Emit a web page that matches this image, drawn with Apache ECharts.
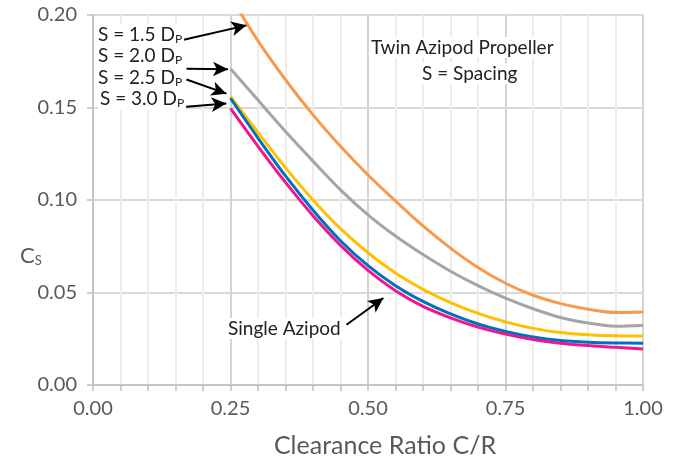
<!DOCTYPE html>
<html>
<head>
<meta charset="utf-8">
<script src="https://cdn.jsdelivr.net/npm/echarts@6/dist/echarts.min.js"></script>
<style>
  html, body { margin: 0; padding: 0; background: #fff; }
  #chart { width: 681px; height: 466px; }
</style>
</head>
<body>
<div id="chart"></div>
<script>
// clearance ratio C/R
var xs = [0.25, 0.30, 0.35, 0.40, 0.45, 0.50, 0.55, 0.60, 0.65, 0.70, 0.75, 0.80, 0.85, 0.90, 0.95, 1.00];
// Cs for each spacing
var s15 = [0.210, 0.186, 0.165, 0.146, 0.129, 0.1135, 0.0995, 0.086, 0.074, 0.0635, 0.055, 0.0485, 0.044, 0.041, 0.0392, 0.0395];
var s20 = [0.171, 0.154, 0.137, 0.121, 0.1055, 0.092, 0.0805, 0.0705, 0.0615, 0.0537, 0.0469, 0.0412, 0.0365, 0.0335, 0.0318, 0.0322];
var s25 = [0.156, 0.1365, 0.1175, 0.100, 0.0845, 0.0715, 0.0605, 0.0517, 0.0445, 0.0387, 0.0341, 0.0306, 0.0284, 0.0272, 0.0266, 0.0265];
var s30 = [0.155, 0.1335, 0.113, 0.0945, 0.078, 0.0645, 0.0537, 0.0452, 0.0384, 0.033, 0.0289, 0.0259, 0.024, 0.0231, 0.0227, 0.0226];
var single = [0.1495, 0.129, 0.1095, 0.0915, 0.0755, 0.062, 0.051, 0.0425, 0.0363, 0.0313, 0.0275, 0.0246, 0.0226, 0.0213, 0.0204, 0.0194];

// arrows: [from, to] in data units
var arrows = [
  [[0.161, 0.1863], [0.279, 0.1944]],
  [[0.170, 0.171], [0.2455, 0.1707]],
  [[0.170, 0.1651], [0.2426, 0.1575]],
  [[0.164, 0.1503], [0.2426, 0.1522]],
  [[0.461, 0.0326], [0.528, 0.047]]
];

function pairs(ys) {
  return xs.map(function (x, i) { return [x, ys[i]]; });
}

var font = 'Lato, "Liberation Sans", sans-serif';
var chart = echarts.init(document.getElementById('chart'));

function line(name, ys, color) {
  return {
    name: name,
    type: 'line',
    data: pairs(ys),
    smooth: 0.3,
    showSymbol: false,
    lineStyle: { color: color, width: 3 },
    itemStyle: { color: color },
    emphasis: { disabled: true },
    z: 3
  };
}

var series = [
  line('S = 1.5 Dp', s15, '#F79A4E'),
  line('S = 2.0 Dp', s20, '#A5A5A5'),
  line('S = 2.5 Dp', s25, '#FFC000'),
  line('S = 3.0 Dp', s30, '#0070C0'),
  line('Single Azipod', single, '#F0168C')
];
series.push({
  type: 'line',
  data: [],
  silent: true,
  markLine: {
    silent: true,
    animation: false,
    symbol: ['none', 'arrow'],
    symbolSize: [11, 15],
    label: { show: false },
    lineStyle: { color: '#000', width: 2, type: 'solid' },
    data: arrows.map(function (a) {
      return [{ coord: a[0] }, { coord: a[1] }];
    })
  }
});

var labelRich = { p: { fontSize: 12, fontFamily: font, color: '#222', padding: [8, 0, 0, 0] } };
function note(text, left, top) {
  return {
    type: 'text', left: left, top: top, z: 10,
    style: { text: text, fontSize: 19, fontFamily: font, fill: '#222', rich: labelRich,
      backgroundColor: '#fff', padding: [1, 2, 1, 2] }
  };
}

chart.setOption({
  animation: false,
  grid: { left: 93, right: 38, top: 15, bottom: 81 },
  xAxis: {
    type: 'value',
    min: 0, max: 1, interval: 0.25,
    name: 'Clearance Ratio C/R',
    nameLocation: 'middle',
    nameGap: 48,
    nameTextStyle: { fontSize: 25, fontFamily: font, color: '#595959', padding: [0, 0, 0, 34] },
    axisLine: { show: true, lineStyle: { color: '#BFBFBF', width: 1.5 } },
    axisTick: { show: true, length: 6, lineStyle: { color: '#BFBFBF', width: 1.5 } },
    minorTick: { show: true, splitNumber: 5, length: 6, lineStyle: { color: '#BFBFBF', width: 1.5 } },
    axisLabel: {
      margin: 14, fontSize: 20, fontFamily: font, color: '#595959',
      formatter: function (v) { return v.toFixed(2); }
    },
    splitLine: { show: true, lineStyle: { color: '#D4D4D4', width: 2 } },
    minorSplitLine: { show: true, lineStyle: { color: '#EDEDED', width: 2 } }
  },
  yAxis: {
    type: 'value',
    min: 0, max: 0.2, interval: 0.05,
    axisLine: { show: true, lineStyle: { color: '#BFBFBF', width: 1.5 } },
    axisTick: { show: true, length: 6, lineStyle: { color: '#BFBFBF', width: 1.5 } },
    axisLabel: {
      margin: 16, fontSize: 20, fontFamily: font, color: '#595959',
      formatter: function (v) { return v.toFixed(2); }
    },
    splitLine: { show: true, lineStyle: { color: '#D9D9D9', width: 2 } }
  },
  series: series,
  graphic: [
    note('S = 1.5 D{p|P}', 96, 24),
    note('S = 2.0 D{p|P}', 96, 45),
    note('S = 2.5 D{p|P}', 96, 67),
    note('S = 3.0 D{p|P}', 98, 88),
    note('Single Azipod', 226, 318),
    note('Twin Azipod Propeller', 369, 37),
    note('S = Spacing', 420, 63),
    {
      type: 'text', left: 20, top: 245,
      style: { text: 'C{s|S}', fontSize: 22, fontFamily: font, fill: '#595959',
        rich: { s: { fontSize: 13, fontFamily: font, fill: '#595959', padding: [9, 0, 0, 0] } } }
    }
  ]
});
</script>
</body>
</html>
